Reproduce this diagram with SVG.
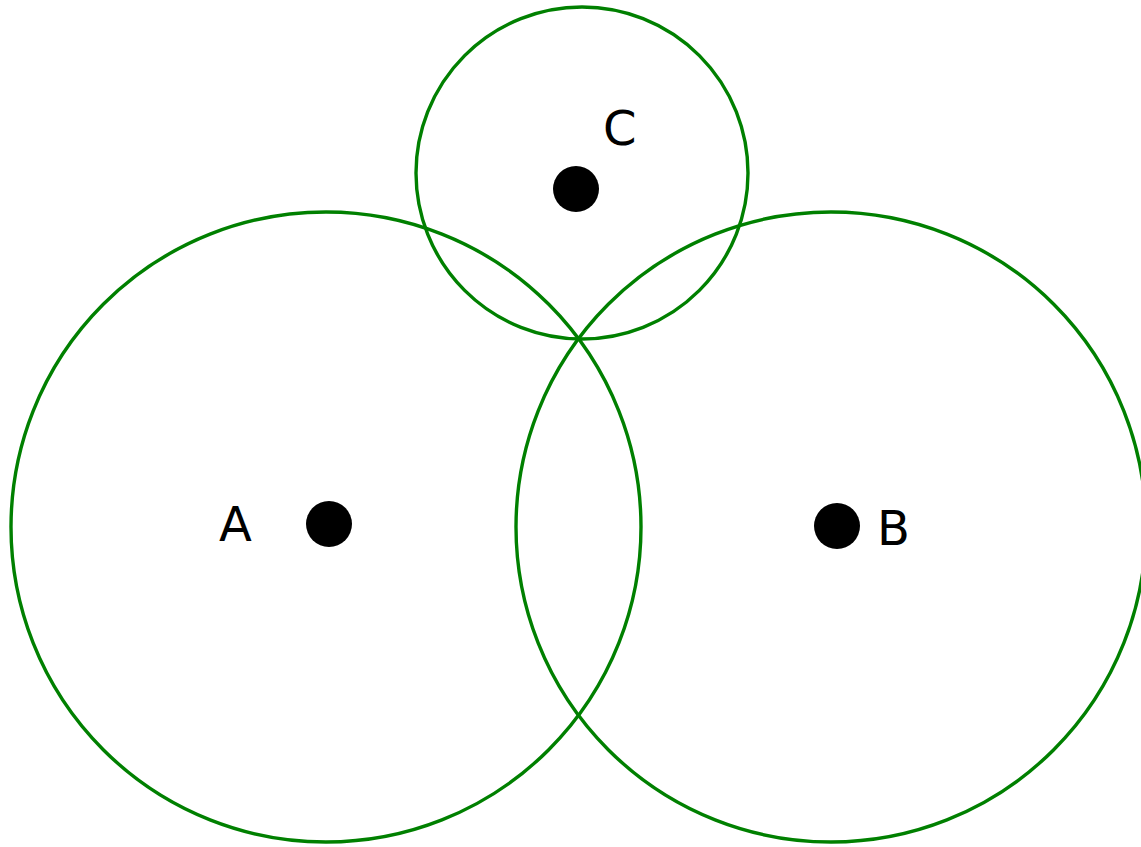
<svg xmlns="http://www.w3.org/2000/svg" width="1141" height="847" viewBox="0 0 1141 847">
<style>
.ring{fill:none;stroke:#008000;stroke-width:3.4}
.dot{fill:#000}
.lbl{font-family:"DejaVu Sans",sans-serif;font-size:48px;fill:#000}
</style>
<rect width="1141" height="847" fill="#fff"/>
<g id="circles">
<circle id="circleA" class="ring" cx="326" cy="527" r="315"/>
<circle id="circleB" class="ring" cx="831" cy="527" r="315"/>
<circle id="circleC" class="ring" cx="582" cy="173" r="166"/>
</g>
<g id="nodeA"><circle class="dot" cx="329" cy="524" r="23"/><text class="lbl" x="219" y="541">A</text></g>
<g id="nodeB"><circle class="dot" cx="837" cy="526" r="23"/><text class="lbl" x="877" y="545">B</text></g>
<g id="nodeC"><circle class="dot" cx="576" cy="189" r="23"/><text class="lbl" x="603" y="145">C</text></g>
<g id="connectors"></g>
</svg>
